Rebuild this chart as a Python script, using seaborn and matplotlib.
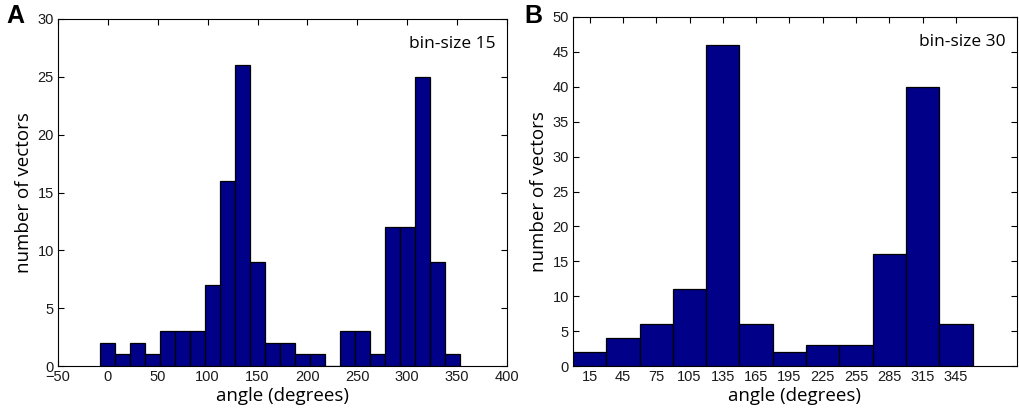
import pandas as pd
import matplotlib
matplotlib.use("Agg")
import matplotlib.pyplot as plt
from matplotlib import font_manager
import seaborn as sns

# panel A: bin-size 15 (bin centres and counts)
centers_a = [0, 15, 30, 45, 60, 75, 90, 105, 120, 135, 150, 165,
             180, 195, 210, 225, 240, 255, 270, 285, 300, 315, 330, 345]
counts_a = [2, 1, 2, 1, 3, 3, 3, 7, 16, 26, 9, 2,
            2, 1, 1, 0, 3, 3, 1, 12, 12, 25, 9, 1]
xticks_a = [-50, 0, 50, 100, 150, 200, 250, 300, 350, 400]
yticks_a = [0, 5, 10, 15, 20, 25, 30]

# panel B: bin-size 30
centers_b = [15, 45, 75, 105, 135, 165, 195, 225, 255, 285, 315, 345]
counts_b = [2, 4, 6, 11, 46, 6, 2, 3, 3, 16, 40, 6]
yticks_b = [0, 5, 10, 15, 20, 25, 30, 35, 40, 45, 50]

bar_color = "#000088"
label_font = ["Open Sans", "DejaVu Sans"]

# narrow arial-like font for the tick numbers, if there is one
installed = {f.name for f in font_manager.fontManager.ttflist}
if "Liberation Sans Narrow" in installed:
    tick_font = ["Liberation Sans Narrow", "DejaVu Sans"]
    tick_size = 11.5
else:
    tick_font = ["Liberation Sans", "DejaVu Sans"]
    tick_size = 10.5

sns.set_style("ticks")
plt.rcParams["font.family"] = label_font
plt.rcParams["text.color"] = "black"
plt.rcParams["axes.labelcolor"] = "black"
plt.rcParams["xtick.direction"] = "in"
plt.rcParams["ytick.direction"] = "in"


def draw_panel(ax, centers, counts, width, xlim, xticks, ylim, yticks, note, letter):
    df = pd.DataFrame({"angle": centers, "n": counts})
    brange = (centers[0] - width / 2, centers[-1] + width / 2)
    sns.histplot(data=df, x="angle", weights="n", binwidth=width, binrange=brange,
                 ax=ax, color=bar_color, edgecolor="black", linewidth=0.9,
                 alpha=1.0)
    ax.set_xlim(*xlim)
    ax.set_ylim(*ylim)
    ax.set_xticks(xticks)
    ax.set_yticks(yticks)
    ax.tick_params(top=True, right=True, length=4, width=0.8, pad=3,
                   labelsize=tick_size, colors="black")
    for lab in ax.get_xticklabels() + ax.get_yticklabels():
        lab.set_family(tick_font)
        lab.set_color("#1a1a1a")
    for sp in ax.spines.values():
        sp.set_visible(True)
        sp.set_linewidth(0.8)
        sp.set_color("black")
    ax.set_xlabel("angle (degrees)", fontsize=13.5, labelpad=2)
    ax.set_ylabel("number of vectors", fontsize=13.5, labelpad=3)
    ax.text(0.975, 0.95, note, transform=ax.transAxes, ha="right", va="top",
            fontsize=12.5, family=label_font)
    ax.figure.text(letter[0], letter[1], letter[2], fontsize=18,
                   fontweight="bold", family=["Liberation Sans", "DejaVu Sans"],
                   ha="left", va="top")


fig = plt.figure(figsize=(10.2, 4.13), dpi=100)
ax_a = fig.add_axes([58 / 1020, 47 / 413, 449 / 1020, 347 / 413])
ax_b = fig.add_axes([573 / 1020, 47 / 413, 444 / 1020, 349 / 413])

draw_panel(ax_a, centers_a, counts_a, 15, (-50, 400), xticks_a, (0, 30), yticks_a,
           "bin-size 15", (6 / 1020, 1 - 4 / 413, "A"))
draw_panel(ax_b, centers_b, counts_b, 30, (0, 400), centers_b, (0, 50), yticks_b,
           "bin-size 30", (524 / 1020, 1 - 4 / 413, "B"))

fig.savefig("out.png", dpi=100)
